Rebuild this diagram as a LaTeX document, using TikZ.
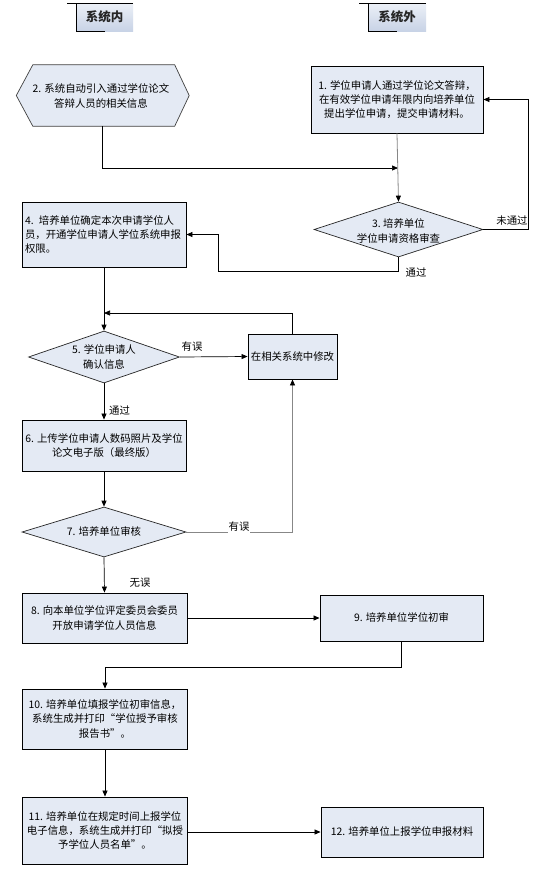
\documentclass[tikz,border=0pt]{standalone}
\usepackage{fontspec}
\setmainfont{Noto Sans CJK SC}
\usetikzlibrary{arrows.meta,shapes.geometric,calc}
\definecolor{boxfill}{RGB}{228,234,244}
\definecolor{tabfill}{RGB}{200,211,230}
\definecolor{tabtop}{RGB}{236,240,247}
\definecolor{linegray}{RGB}{135,135,135}
\begin{document}
\begin{tikzpicture}[x=1pt,y=-1pt,
  every node/.style={font=\fontsize{10.4}{14.3}\selectfont},
  box/.style={draw=black,fill=boxfill,line width=0.9pt,inner sep=0pt,align=center},
  dia/.style={draw=black!85,fill=boxfill,diamond,inner sep=0pt,line width=0.7pt},
  txt/.style={inner sep=0pt,align=center},
  conn/.style={line width=0.7pt,draw=black,-{Triangle[length=6pt,width=5pt]}},
  gconn/.style={line width=0.8pt,draw=linegray,-{Triangle[length=6pt,width=5pt,fill=black,color=black]}},
  lbl/.style={inner sep=1pt},
  tabtext/.style={font=\bfseries\fontsize{12.5}{14}\selectfont,text=black!85}
]
\useasboundingbox[fill=white] (0,0) rectangle (541,876);

% header tabs
\shade[top color=tabtop,bottom color=tabfill] (76,3) rectangle (133,31);
\draw[line width=0.8pt] (67,3) -- (133,3);
\draw[line width=0.8pt] (76,3) -- (76,31) -- (105,31);
\node[tabtext] (t1) at (104.5,17) {系统内};
\shade[top color=tabtop,bottom color=tabfill] (368,3) rectangle (426,31);
\draw[line width=0.8pt] (359,3) -- (426,3);
\draw[line width=0.8pt] (368,3) -- (368,31) -- (397,31);
\node[tabtext] (t2) at (397,17) {系统外};

% node 2 (hexagon)
\node[inner sep=0pt,minimum width=172.5pt,minimum height=61pt] (n2) at (102.75,95.5) {};
\filldraw[fill=boxfill,draw=black!75,line width=0.7pt]
  (n2.west) -- ($(n2.north west)+(16.5,0)$) -- ($(n2.north east)+(-14.5,0)$) -- (n2.east)
  -- ($(n2.south east)+(-14.5,0)$) -- ($(n2.south west)+(16.5,0)$) -- cycle;
\node[txt] (n2t) at (101,96) {2. 系统自动引入通过学位论文\\答辩人员的相关信息};

% node 1
\node[box,minimum width=172pt,minimum height=67pt] (n1) at (397,99.5)
  {1. 学位申请人通过学位论文答辩，\\在有效学位申请年限内向培养单位\\提出学位申请，提交申请材料。};

% diamond 3
\node[dia,minimum width=169pt,minimum height=55pt] (d3) at (398.5,229.5) {};
\node[txt] (d3t) at (398.5,231) {3.\ 培养单位\\学位申请资格审查};

% node 4
\node[box,minimum width=164pt,minimum height=65pt,text width=158pt,align=left] (n4) at (104,234.5)
  {4. 培养单位确定本次申请学位人\\员，开通学位申请人学位系统申报\\权限。};

% diamond 5
\node[dia,minimum width=151pt,minimum height=52pt] (d5) at (104,357) {};
\node[txt] (d5t) at (104,357) {5. 学位申请人\\确认信息};

% modify box
\node[box,minimum width=89pt,minimum height=45pt] (m) at (292.5,356.5) {在相关系统中修改};

% node 6
\node[box,minimum width=164pt,minimum height=51pt] (n6) at (104,445.5)
  {6. 上传学位申请人数码照片及学位\\论文电子版（最终版）};

% diamond 7
\node[dia,minimum width=164pt,minimum height=50pt] (d7) at (104,532) {};
\node[txt] (d7t) at (104,532) {7. 培养单位审核};

% node 8
\node[box,minimum width=165pt,minimum height=50pt] (n8) at (104.5,618)
  {8. 向本单位学位评定委员会委员\\开放申请学位人员信息};

% node 9
\node[box,minimum width=163pt,minimum height=46pt] (n9) at (401.5,618) {9. 培养单位学位初审};

% node 10
\node[box,minimum width=165pt,minimum height=60pt] (n10) at (105,719)
  {10. 培养单位填报学位初审信息，\\系统生成并打印“学位授予审核\\报告书”。};

% node 11
\node[box,minimum width=165pt,minimum height=67pt] (n11) at (105,830.5)
  {11. 培养单位在规定时间上报学位\\电子信息，系统生成并打印“拟授\\予学位人员名单”。};

% node 12
\node[box,minimum width=162pt,minimum height=50pt] (n12) at (402,832) {12. 培养单位上报学位申报材料};

% connectors
\coordinate (j1) at (398,168);
\draw[conn] (n2.south) |- (j1);
\draw[gconn] (n1.south) -- (d3.north);
\draw[conn] (d3.east) -- ++(45,0) |- (n1.east);
\node[lbl] (l1) at (512,221) {未通过};
\draw[conn] (d3.south) -- ++(0,14) -| ($(n4.east)+(32,0)$) -- (n4.east);
\node[lbl] (l2) at (416,273) {通过};

\draw[conn] (n4.south) -- (d5.north);
\coordinate (r1) at (104,313);
\draw[conn] (m.north) |- (r1);
\draw[conn] (d5.east) -- (m.west);
\node[lbl] (l3) at (192,347) {有误};
\draw[conn] (d5.south) -- (n6.north);
\node[lbl,anchor=west] (l4) at (108,411) {通过};
\draw[conn] (n6.south) -- (d7.north);
\draw[gconn] (d7.east) -| (m.south);
\node[lbl,fill=white] (l5) at (239,527) {有误};
\draw[conn] (d7.south) -- (n8.north);
\node[lbl] (l6) at (140,583) {无误};

\draw[conn] (n8.east) -- (n9.west);
\draw[conn] (n9.south) -- ++(0,26) -| (n10.north);
\draw[conn] (n10.south) -- (n11.north);
\draw[conn] (n12.west -| n11.east) -- (n12.west);
\end{tikzpicture}
\end{document}
